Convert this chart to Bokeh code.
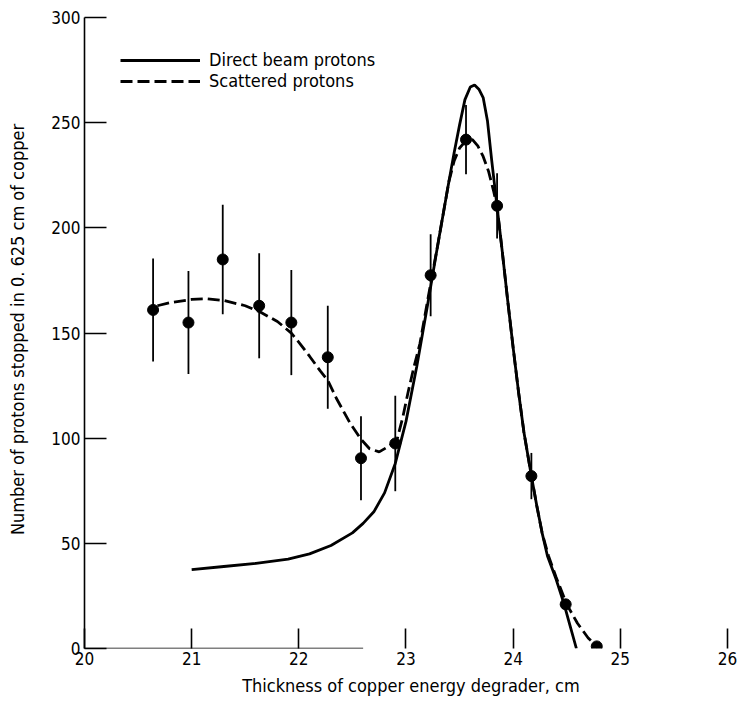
from bokeh.plotting import figure
from bokeh.models import ColumnDataSource, FixedTicker, Legend, LegendItem, Range1d
from bokeh.embed import file_html
from bokeh.resources import INLINE

# ---- data ----
pt_x = [20.64, 20.97, 21.29, 21.63, 21.93, 22.27, 22.58, 22.90, 23.23, 23.56, 23.85, 24.17, 24.49, 24.78]
pt_y = [161, 155, 185, 163, 155, 138.5, 90.5, 97.5, 177.5, 242, 210.5, 82, 21, 1]
pt_err = [24.5, 24.5, 26, 25, 25, 24.5, 20, 22.7, 19.5, 16.5, 15.5, 11, 0, 0]

direct_x = [21.0, 21.3, 21.6, 21.9, 22.1, 22.3, 22.5, 22.6, 22.7, 22.8, 22.9, 23.0, 23.1,
            23.2, 23.3, 23.4, 23.45, 23.5, 23.55, 23.6, 23.64, 23.68, 23.72, 23.76, 23.8,
            23.85, 23.9, 23.95, 24.0, 24.05, 24.1, 24.17, 24.22, 24.27, 24.32, 24.4, 24.47,
            24.53, 24.59]
direct_y = [37.5, 39, 40.5, 42.5, 45, 49, 55, 59.5, 65, 74, 88, 108, 134,
            163, 193, 222, 236, 249, 261, 267, 268, 266, 262, 251, 232,
            210, 188, 165, 143, 122, 103, 82, 68, 55, 44, 33, 22,
            11, 0]

scat_x = [20.68, 20.8, 21.0, 21.14, 21.3, 21.5, 21.64, 21.8, 21.93, 22.01, 22.1, 22.2,
          22.27, 22.35, 22.48, 22.58, 22.66, 22.75, 22.85, 22.92, 22.97, 23.02, 23.07,
          23.13, 23.2, 23.3, 23.4, 23.45, 23.5, 23.56, 23.62, 23.67, 23.72, 23.77, 23.82,
          23.85, 23.9, 23.95, 24.0, 24.05, 24.1, 24.17, 24.22, 24.27, 24.33, 24.4, 24.5,
          24.6, 24.7, 24.79]
scat_y = [163, 164.5, 166, 166.3, 165.5, 163, 160, 155.5, 150, 145, 139, 132,
          127.5, 119, 107, 99.5, 95, 93.5, 96.5, 100, 110, 122, 133,
          145, 165, 193, 222, 232, 238, 241.5, 242, 239, 234, 227, 217,
          210, 188, 165, 143, 122, 103, 82, 68, 55, 44, 34, 21,
          12, 5, 0.5]

x_ticks = [20, 21, 22, 23, 24, 25, 26]
y_ticks = [0, 50, 100, 150, 200, 250, 300]
baseline_end = 22.6  # visible part of the bottom axis line in the reference

FONT = "DejaVu Sans Condensed"

p = figure(width=742, height=701, output_backend="svg", toolbar_location=None,
           x_range=Range1d(20, 26.14), y_range=Range1d(0, 303.4),
           min_border_left=84, min_border_right=0, min_border_top=10, min_border_bottom=53)
p.xgrid.visible = False
p.ygrid.visible = False
p.outline_line_color = None
p.background_fill_color = "white"
p.border_fill_color = "white"

# axes
xa = p.xaxis[0]
xa.ticker = FixedTicker(ticks=x_ticks)
xa.axis_line_color = None
xa.major_tick_in = 20
xa.major_tick_out = 0
xa.major_tick_line_width = 1.6
xa.major_tick_line_color = "black"
xa.minor_tick_line_color = None
xa.major_label_standoff = 3
xa.major_label_text_font = FONT
xa.major_label_text_font_size = "17px"
xa.major_label_text_color = "black"
xa.axis_label = "Thickness of copper energy degrader,  cm"
xa.axis_label_text_font = FONT
xa.axis_label_text_font_style = "normal"
xa.axis_label_text_font_size = "18px"
xa.axis_label_text_color = "black"
xa.axis_label_standoff = 7

ya = p.yaxis[0]
ya.ticker = FixedTicker(ticks=y_ticks)
ya.bounds = (0, 300)
ya.axis_line_width = 1.6
ya.axis_line_color = "black"
ya.major_tick_in = 22
ya.major_tick_out = 0
ya.major_tick_line_width = 1.6
ya.major_tick_line_color = "black"
ya.minor_tick_line_color = None
ya.major_label_standoff = 4
ya.major_label_text_font = FONT
ya.major_label_text_font_size = "17px"
ya.major_label_text_color = "black"
ya.axis_label = "Number of protons stopped in 0. 625 cm of copper"
ya.axis_label_text_font = FONT
ya.axis_label_text_font_style = "normal"
ya.axis_label_text_font_size = "18px"
ya.axis_label_text_color = "black"
ya.axis_label_standoff = 20

# partial bottom axis line
p.segment(x0=[x_ticks[0]], y0=[y_ticks[0]], x1=[baseline_end], y1=[y_ticks[0]],
          line_color="black", line_width=1.6)

# curves
r_direct = p.line(direct_x, direct_y, line_color="black", line_width=2.8)
r_scat = p.line(scat_x, scat_y, line_color="black", line_width=2.8, line_dash="12 5")

# error bars
lo = [y - e for y, e in zip(pt_y, pt_err)]
hi = [y + e for y, e in zip(pt_y, pt_err)]
src = ColumnDataSource(dict(x=pt_x, y=pt_y, lo=lo, hi=hi))
p.segment(x0="x", y0="lo", x1="x", y1="hi", source=src, line_color="black", line_width=1.8)
p.scatter(x="x", y="y", source=src, marker="circle", size=11,
          fill_color="black", line_color="black")

legend = Legend(items=[LegendItem(label="Direct beam protons", renderers=[r_direct]),
                       LegendItem(label="Scattered protons", renderers=[r_scat])],
                location=(36, 557), orientation="vertical")
legend.glyph_width = 80
legend.glyph_height = 20
legend.spacing = 0
legend.padding = 0
legend.margin = 0
legend.label_standoff = 9
legend.label_text_font = FONT
legend.label_text_font_size = "18px"
legend.label_text_color = "black"
legend.label_height = 20
legend.border_line_color = None
legend.background_fill_alpha = 0
p.add_layout(legend, "center")

open("out.html", "w").write(file_html(p, INLINE))
